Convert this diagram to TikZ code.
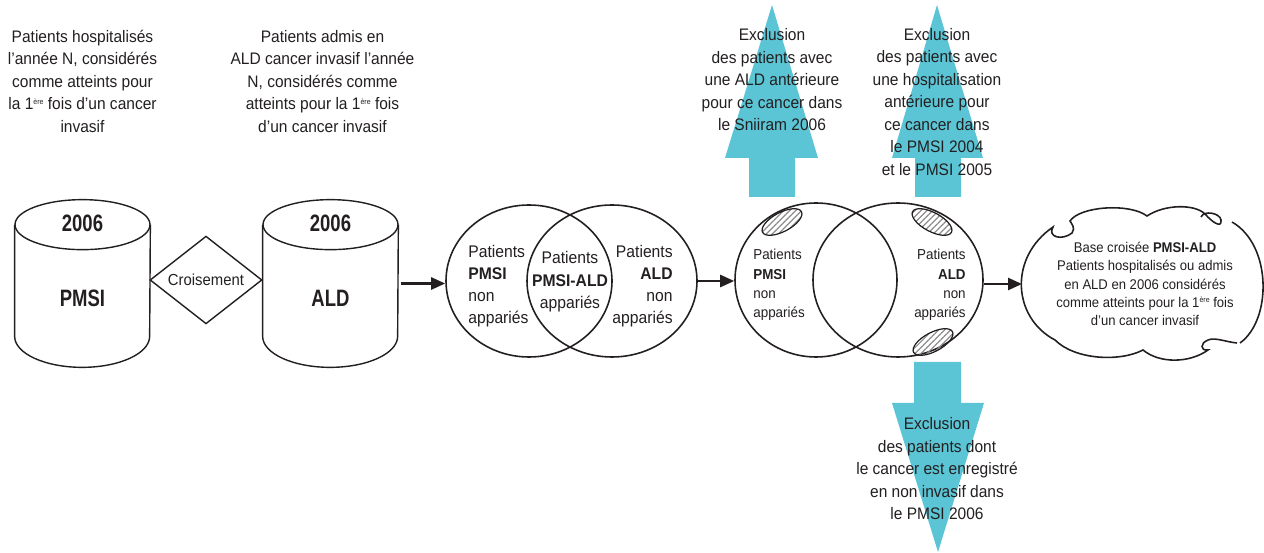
\documentclass[tikz,border=0pt]{standalone}
\usepackage{fontspec}
\setmainfont{Liberation Sans}[FakeStretch=0.93]
\newfontfamily\storefont{Liberation Sans}[FakeStretch=0.78]
\usepackage{xcolor}
\usepackage{tikz}
\usetikzlibrary{
  arrows.meta,
  positioning,
  shapes.geometric,
  patterns.meta,
  calc
}
\definecolor{Ink}{HTML}{231F20}
\definecolor{ExclCyan}{HTML}{5BC5D5}
\definecolor{HatchGray}{HTML}{8C8C8C}
\newcommand{\pxu}{0.02cm}
\newcommand{\ere}{\raisebox{0.62ex}{\fontsize{4.3}{5}\selectfont ère}}
\tikzset{
  store/.style={
    rectangle,
    draw=none,
    minimum width=135*\pxu,
    minimum height=167*\pxu,
    inner sep=0pt
  },
  storeline/.style={
    draw=Ink,
    line width=0.8pt
  },
  storelabel/.style={
    text=Ink,
    font=\storefont\fontsize{13.5}{16}\selectfont\bfseries,
    inner sep=0pt
  },
  junction/.style={
    diamond,
    draw=Ink,
    line width=0.8pt,
    minimum width=112*\pxu,
    minimum height=86*\pxu,
    inner sep=0pt,
    text=Ink,
    font=\fontsize{9.1}{11}\selectfont
  },
  setring/.style={
    ellipse,
    draw=Ink,
    line width=0.9pt,
    inner sep=0pt
  },
  subset/.style={
    ellipse,
    draw=Ink,
    line width=0.7pt,
    minimum width=44*\pxu,
    minimum height=19*\pxu,
    inner sep=0pt,
    pattern={Lines[angle=45,distance=2.4pt,line width=0.7pt]},
    pattern color=HatchGray
  },
  caption/.style={
    align=center,
    text=Ink,
    inner sep=0pt,
    font=\fontsize{9.5}{12.8}\selectfont
  },
  setlabel/.style={
    text=Ink,
    inner sep=0pt,
    font=\fontsize{9.6}{12.4}\selectfont
  },
  keptlabel/.style={
    text=Ink,
    inner sep=0pt,
    font=\fontsize{8.2}{11}\selectfont
  },
  flow/.style={
    -{Triangle[length=2.8mm,width=2.4mm]},
    line width=1.4pt,
    draw=Ink
  },
  exclusion/.style={
    fill=ExclCyan,
    draw=none
  },
  cloudline/.style={
    draw=Ink,
    line width=0.9pt
  }
}

\begin{document}
\begin{tikzpicture}[x=\pxu, y=-\pxu]

  \useasboundingbox (0,0) rectangle (1264,553);

  % exclusion arrows
  \fill[exclusion] (749,197) -- (749,158) -- (725,158) -- (772,5)
    -- (818,158) -- (795,158) -- (795,197) -- cycle;
  \fill[exclusion] (915,197) -- (915,158) -- (892,158) -- (937,5)
    -- (983,158) -- (961,158) -- (961,197) -- cycle;
  \fill[exclusion] (914,362) -- (914,403) -- (892,403) -- (938,552)
    -- (984,403) -- (961,403) -- (961,362) -- cycle;

  % sources
  \node[store] (pmsi) at (82.5,283.5) {};
  \node[store] (ald) at (330.5,283.5) {};

  \draw[storeline] ($(pmsi.north)+(0,25)$) ellipse [x radius=67.5*\pxu, y radius=25*\pxu];
  \draw[storeline] ($(pmsi.north west)+(0,25)$) -- ($(pmsi.south west)+(0,-31)$)
    arc[start angle=180, end angle=360, x radius=67.5*\pxu, y radius=31*\pxu]
    -- ($(pmsi.north east)+(0,25)$);
  \draw[storeline] ($(ald.north)+(0,25)$) ellipse [x radius=67.5*\pxu, y radius=25*\pxu];
  \draw[storeline] ($(ald.north west)+(0,25)$) -- ($(ald.south west)+(0,-31)$)
    arc[start angle=180, end angle=360, x radius=67.5*\pxu, y radius=31*\pxu]
    -- ($(ald.north east)+(0,25)$);

  \node[junction] (cross) at (206,280) {Croisement};

  \node[storelabel] (pmsiyear) at (82.5,223) {2006};
  \node[storelabel] (pmsiname) at (82.5,298) {PMSI};
  \node[storelabel] (aldyear) at (330.5,223) {2006};
  \node[storelabel] (aldname) at (330.5,298) {ALD};

  \node[caption, above=67*\pxu of pmsi] (hospnote) {
    Patients hospitalisés\\
    l’année N, considérés\\
    comme atteints pour\\
    la 1\ere{} fois d’un cancer\\
    invasif
  };

  \node[caption, above=67*\pxu of ald.north, xshift=-8*\pxu, anchor=south] (aldnote) {
    Patients admis en\\
    ALD cancer invasif l’année\\
    N, considérés comme\\
    atteints pour la 1\ere{} fois\\
    d’un cancer invasif
  };

  % matching
  \node[setring, minimum width=166*\pxu, minimum height=152*\pxu] (pairL) at (529,281) {};
  \node[setring, minimum width=170*\pxu, minimum height=152*\pxu] (pairR) at (612,281) {};

  \node[setlabel, align=left, anchor=west] (pmsionly) at (468,286) {
    Patients\\ \textbf{PMSI}\\ non\\ appariés
  };
  \node[setlabel, align=center, font=\fontsize{9.6}{12.8}\selectfont] (both) at (570,282) {
    Patients\\ \textbf{PMSI-ALD}\\ appariés
  };
  \node[setlabel, align=right, anchor=east] (aldonly) at (673,286) {
    Patients\\ \textbf{ALD}\\ non\\ appariés
  };

  % after exclusions
  \node[setring, minimum width=162*\pxu, minimum height=154*\pxu] (keepL) at (816,280) {};
  \node[setring, minimum width=170*\pxu, minimum height=154*\pxu] (keepR) at (898,280) {};

  \node[subset, rotate=28] (dropald) at (782,222) {};
  \node[subset, rotate=-28] (drophosp) at (932,222) {};
  \node[subset, rotate=28] (dropinsitu) at (933,342) {};

  \node[keptlabel, align=left, anchor=west] (keptpmsi) at (753,285) {
    Patients\\ \textbf{PMSI}\\ non\\ appariés
  };
  \node[keptlabel, align=right, anchor=east] (keptald) at (966,285) {
    Patients\\ \textbf{ALD}\\ non\\ appariés
  };

  \node[caption] (excl1) at (772,80) {
    Exclusion\\
    des patients avec\\
    une ALD antérieure\\
    pour ce cancer dans\\
    le Sniiram 2006
  };
  \node[caption] (excl2) at (937,102) {
    Exclusion\\
    des patients avec\\
    une hospitalisation\\
    antérieure pour\\
    ce cancer dans\\
    le PMSI 2004\\
    et le PMSI 2005
  };
  \node[caption] (excl3) at (937,469) {
    Exclusion\\
    des patients dont\\
    le cancer est enregistré\\
    en non invasif dans\\
    le PMSI 2006
  };

  % final base
  \draw[cloudline] (1237,343) .. controls (1226,342) and (1215,337) .. (1208,340)
    .. controls (1200,343) and (1200,351) .. (1208,350)
    .. controls (1190,363) and (1160,364) .. (1143,350)
    .. controls (1120,362) and (1075,360) .. (1055,340)
    .. controls (1013,318) and (1008,258) .. (1053,227)
    .. controls (1047,237) and (1062,241) .. (1072,233)
    .. controls (1076,228) and (1071,223) .. (1070,221)
    .. controls (1080,206) and (1130,203) .. (1147,216)
    .. controls (1165,204) and (1195,204) .. (1205,214)
    .. controls (1212,222) and (1222,229) .. (1221,220)
    .. controls (1220,213) and (1204,210) .. (1201,217);
  \draw[cloudline] (1232,222) .. controls (1272,245) and (1272,320) .. (1240,343);
  \coordinate (cloudin) at (1022,284);
  \node[caption, font=\fontsize{8}{10.4}\selectfont] (base) at (1145,284) {
    Base croisée \textbf{PMSI-ALD}\\
    Patients hospitalisés ou admis\\
    en ALD en 2006 considérés\\
    comme atteints pour la 1\ere{} fois\\
    d’un cancer invasif
  };

  \draw[flow, shorten <=3*\pxu] (ald.east) -- (ald.east -| pairL.west);
  \draw[flow] (pairR.east) -- (pairR.east -| keepL.west);
  \draw[flow] (keepR.east |- cloudin) -- (cloudin);

\end{tikzpicture}
\end{document}
